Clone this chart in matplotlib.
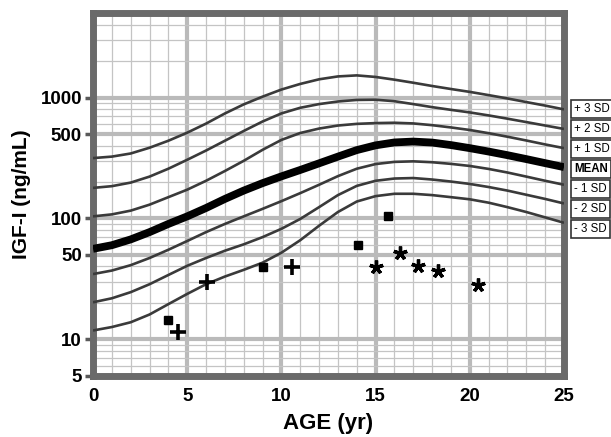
import numpy as np
import matplotlib
matplotlib.use("Agg")
import matplotlib.pyplot as plt
from matplotlib.ticker import FixedLocator, NullFormatter

# reference curves (ng/mL at each year of age)
ages = list(range(0, 26))
sd_p3 = [316, 325, 345, 385, 440, 513, 610, 740, 880, 1020, 1168, 1300, 1420,
         1500, 1530, 1485, 1410, 1330, 1250, 1180, 1117, 1050, 985, 920, 860, 800]
sd_p2 = [179, 185, 198, 222, 258, 306, 365, 440, 530, 635, 741, 825, 885,
         930, 958, 962, 935, 885, 835, 793, 755, 713, 670, 628, 588, 551]
sd_p1 = [104, 108, 116, 130, 150, 173, 205, 247, 300, 370, 447, 510, 555,
         588, 607, 616, 620, 612, 592, 567, 540, 508, 475, 442, 410, 382]
mean = [56, 60, 67, 77, 90, 104, 122, 145, 170, 196, 223, 252, 286,
        325, 368, 403, 426, 433, 425, 405, 382, 358, 334, 310, 287, 266]
sd_m1 = [34.6, 37, 41, 47, 55, 65, 77, 90, 104, 120, 139, 162, 190,
         224, 258, 282, 294, 297, 292, 283, 272, 257, 240, 222, 205, 190]
sd_m2 = [20.2, 21.8, 24.5, 28.5, 34, 40.5, 47, 54, 61, 70, 82, 99, 124,
         156, 186, 205, 214, 216, 210, 202, 193, 182, 170, 157, 145, 133]
sd_m3 = [11.8, 12.6, 13.8, 16, 19.5, 23.7, 28.5, 33, 37.5, 43, 52, 66, 87,
         113, 138, 153, 160, 160, 156, 150, 144, 135, 124, 113, 102, 92]

# patient values
sq_age = [4.0, 9.0, 14.05, 15.65]
sq_igf = [14.3, 39.7, 60, 104]
plus_age = [4.5, 6.05, 10.55]
plus_igf = [11.5, 29.9, 39.3]
star_age = [15.0, 16.3, 17.25, 18.3, 20.45]
star_igf = [39.7, 52.2, 40.5, 36.4, 28.1]

sd_labels = ['+ 3 SD', '+ 2 SD', '+ 1 SD', 'MEAN', '- 1 SD', '- 2 SD', '- 3 SD']
x_ticks = [0, 5, 10, 15, 20, 25]
y_ticks = [5, 10, 50, 100, 500, 1000]

plt.rcParams['font.family'] = ['Liberation Sans', 'DejaVu Sans']

fig = plt.figure(figsize=(6.11, 4.37), dpi=100)
ax = fig.add_axes([93 / 611, 61.5 / 437, 471 / 611, 362.2 / 437])
ax.set_yscale('log')
ax.set_xlim(0, 25)
ax.set_ylim(5, 5000)

# grid
grid_minor = '#c4c4c4'
grid_major = '#bababa'
for yr in range(1, 25):
    if yr % 5:
        ax.axvline(yr, color=grid_minor, lw=0.9, zorder=1)
for yr in [5, 10, 15, 20]:
    ax.axvline(yr, color=grid_major, lw=3, zorder=1)
for dec in [1, 10, 100, 1000]:
    for m in range(2, 10):
        v = m * dec
        if 5 < v < 5000 and m != 5:
            ax.axhline(v, color=grid_minor, lw=0.9, zorder=1)
for v in [10, 50, 100, 500, 1000]:
    ax.axhline(v, color=grid_major, lw=3, zorder=1)

# SD curves
for vals in [sd_p3, sd_p2, sd_p1, sd_m1, sd_m2, sd_m3]:
    ax.plot(ages, vals, color='#3a3a3a', lw=1.9, zorder=3,
            solid_capstyle='butt', solid_joinstyle='round')
ax.plot(ages, mean, color='black', lw=5.6, zorder=4,
        solid_capstyle='butt', solid_joinstyle='round')

# patients
ax.plot(sq_age, sq_igf, ls='none', marker='s', ms=6, color='black', zorder=5)
ax.plot(plus_age, plus_igf, ls='none', marker='+', ms=12, mew=2.6,
        color='black', zorder=5)
ax.plot(star_age, star_igf, ls='none', marker=(5, 2, 0), ms=10, mew=2.4,
        color='black', zorder=5)

# axes styling
for sp in ax.spines.values():
    sp.set_color('#6a6a6a')
    sp.set_linewidth(5)
ax.xaxis.set_major_locator(FixedLocator(x_ticks))
ax.yaxis.set_major_locator(FixedLocator(y_ticks))
ax.yaxis.set_minor_locator(FixedLocator([]))
ax.yaxis.set_minor_formatter(NullFormatter())
ax.set_xticklabels([str(t) for t in x_ticks], fontsize=13.5, fontweight='bold')
ax.set_yticklabels([str(t) for t in y_ticks], fontsize=13.5, fontweight='bold')
ax.tick_params(axis='x', length=0, pad=9)
ax.tick_params(axis='y', length=6, width=2.5, color='#5a5a5a', pad=2)

ax.set_xlabel('AGE (yr)', fontsize=16, fontweight='bold', labelpad=6)
ax.set_ylabel('IGF-I (ng/mL)', fontsize=15, fontweight='bold', labelpad=7)

# SD labels on the right
for i, lab in enumerate(sd_labels):
    y = 109 + 20 * i
    fig.text(574 / 611, 1 - y / 437, lab, fontsize=8.3,
             fontweight='bold' if lab == 'MEAN' else 'normal',
             va='center', ha='left',
             bbox=dict(boxstyle='square,pad=0.25', fc='white', ec='#333333', lw=1.2))

fig.savefig('out.png', dpi=100)
